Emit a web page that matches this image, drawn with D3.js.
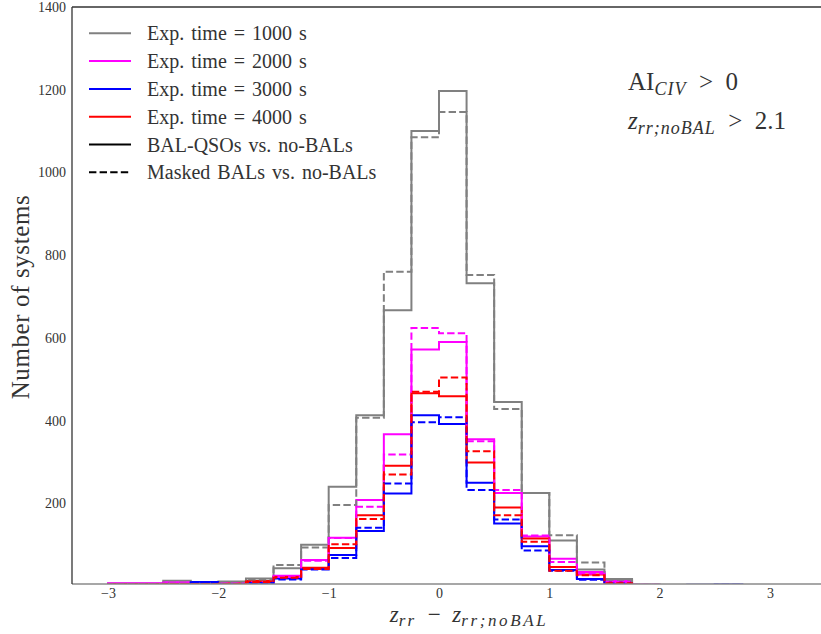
<!DOCTYPE html>
<html>
<head>
<meta charset="utf-8">
<script src="https://cdn.jsdelivr.net/npm/d3@7/dist/d3.min.js"></script>
<style>
  html, body { margin: 0; padding: 0; background: #fff; }
  svg { display: block; }
  text { font-family: "Liberation Serif", "DejaVu Serif", serif; fill: #333; }
</style>
</head>
<body>
<svg id="chart" width="821" height="634"></svg>
<script>
// ---------------- data ----------------
const binEdges = [-3, -2.75, -2.5, -2.25, -2, -1.75, -1.5, -1.25, -1, -0.75, -0.5, -0.25,
  0, 0.25, 0.5, 0.75, 1, 1.25, 1.5, 1.75, 2, 2.25, 2.5, 2.75, 3, 3.25];

const gray1000Solid  = [6, 6, 13, 8, 11, 18, 43, 100, 240, 413, 667, 1100, 1197, 732, 445, 225, 110, 40, 17, 3, 2, 2, 2, 2, 2];
const gray1000Dashed = [4, 4, 8, 6, 9, 16, 51, 93, 196, 407, 760, 1085, 1146, 752, 428, 225, 123, 57, 15, 3, 2, 2, 2, 2, 2];
const mag2000Solid   = [7, 7, 9, 5, 6, 10, 25, 63, 117, 208, 367, 572, 590, 355, 225, 120, 66, 34, 12, 3, 2, 2, 2, 2, 2];
const mag2000Dashed  = [5, 5, 7, 5, 6, 9, 22, 61, 116, 192, 318, 624, 611, 350, 232, 122, 58, 30, 10, 3, 2, 2, 2, 2, 2];
const blue3000Solid  = [4, 4, 5, 10, 5, 8, 18, 42, 75, 133, 224, 413, 392, 250, 151, 96, 39, 17, 8, 2, 2, 3, 4, 2, 2];
const blue3000Dashed = [3, 3, 4, 8, 4, 7, 16, 40, 68, 141, 248, 396, 408, 232, 161, 86, 37, 15, 6, 2, 2, 2, 3, 2, 2];
const red4000Solid   = [5, 5, 5, 5, 6, 12, 22, 44, 92, 171, 291, 466, 459, 299, 190, 115, 46, 28, 8, 2, 2, 2, 2, 2, 2];
const red4000Dashed  = [4, 4, 5, 5, 5, 10, 20, 41, 101, 162, 270, 470, 504, 326, 171, 107, 37, 26, 7, 2, 2, 2, 2, 2, 2];

const seriesColors = ["#808080", "#ff00ff", "#0000ff", "#ff0000"];
const legendLabels = ["Exp. time = 1000 s", "Exp. time = 2000 s", "Exp. time = 3000 s",
  "Exp. time = 4000 s", "BAL-QSOs vs. no-BALs", "Masked BALs vs. no-BALs"];
const xTicks = [-3, -2, -1, 0, 1, 2, 3];
const yTicks = [200, 400, 600, 800, 1000, 1200, 1400];

const solidSeries  = [gray1000Solid, mag2000Solid, blue3000Solid, red4000Solid];
const dashedSeries = [gray1000Dashed, mag2000Dashed, blue3000Dashed, red4000Dashed];

// ---------------- layout ----------------
const svg = d3.select("#chart");
const L = 72, T = 7, R = 821, B = 584;
const x = d3.scaleLinear().domain([-3.327, 3.463]).range([L, R]);
const y = d3.scaleLinear().domain([5, 1400]).range([B, T]);
const DASH = "7.4,3.2";

svg.append("defs").append("clipPath").attr("id", "plotclip")
  .append("rect").attr("x", L).attr("y", T).attr("width", R - L).attr("height", B - T);

function stepPoints(vals) {
  const pts = [[binEdges[0], 0]];
  vals.forEach((v, i) => { pts.push([binEdges[i], v]); pts.push([binEdges[i + 1], v]); });
  pts.push([binEdges[binEdges.length - 1], 0]);
  return pts;
}
const line = d3.line().x(d => x(d[0])).y(d => y(d[1]));

const g = svg.append("g").attr("clip-path", "url(#plotclip)");
solidSeries.forEach((s, i) => {
  g.append("path").attr("d", line(stepPoints(s))).attr("fill", "none")
    .attr("stroke", seriesColors[i]).attr("stroke-width", 2).attr("stroke-linejoin", "miter");
});
dashedSeries.forEach((s, i) => {
  g.append("path").attr("d", line(stepPoints(s))).attr("fill", "none")
    .attr("stroke", seriesColors[i]).attr("stroke-width", 2).attr("stroke-dasharray", DASH);
});

// spines
svg.append("line").attr("x1", L).attr("x2", R).attr("y1", B).attr("y2", B)
  .attr("stroke", "#8a8a8a").attr("stroke-width", 1.3);
svg.append("line").attr("x1", L).attr("x2", L).attr("y1", T).attr("y2", B)
  .attr("stroke", "#333").attr("stroke-width", 1.3);
svg.append("line").attr("x1", L).attr("x2", R).attr("y1", T).attr("y2", T)
  .attr("stroke", "#333").attr("stroke-width", 1.3);

// axes (labels only, no tick marks)
const xAxis = d3.axisBottom(x).tickValues(xTicks).tickSize(0).tickPadding(4)
  .tickFormat(d => d < 0 ? "\u2212" + Math.abs(d) : String(d));
const xa = svg.append("g").attr("transform", `translate(0,${B})`).call(xAxis);
xa.select(".domain").remove();
xa.selectAll("text").attr("font-size", 14).attr("font-family", "Liberation Serif").attr("fill", "#444");

const yAxis = d3.axisLeft(y).tickValues(yTicks).tickSize(0).tickPadding(6).tickFormat(d3.format("d"));
const ya = svg.append("g").attr("transform", `translate(${L},0)`).call(yAxis);
ya.select(".domain").remove();
ya.selectAll("text").attr("font-size", 14).attr("font-family", "Liberation Serif").attr("fill", "#444");

// axis titles
svg.append("text").attr("transform", "translate(29,297) rotate(-90)")
  .attr("text-anchor", "middle").attr("font-size", 25).attr("letter-spacing", 0.6).text("Number of systems");

const xl = svg.append("text").attr("x", 469).attr("y", 622).attr("text-anchor", "middle").attr("font-size", 23);
xl.append("tspan").attr("font-style", "italic").text("z");
xl.append("tspan").attr("font-style", "italic").attr("font-size", 17).attr("letter-spacing", 2.2).attr("dy", 4).text("rr");
xl.append("tspan").attr("dy", -4).text("\u2002\u2212\u2002");
xl.append("tspan").attr("font-style", "italic").text("z");
xl.append("tspan").attr("font-style", "italic").attr("font-size", 17).attr("letter-spacing", 2.6).attr("dy", 4).text("rr;noBAL");

// annotations
const a1 = svg.append("text").attr("x", 628).attr("y", 90).attr("font-size", 25);
a1.append("tspan").text("AI");
a1.append("tspan").attr("font-style", "italic").attr("font-size", 18).attr("letter-spacing", 1).attr("dy", 5).text("CIV");
a1.append("tspan").attr("dy", -5).text("\u2002>\u20020");

const a2 = svg.append("text").attr("x", 628).attr("y", 129).attr("font-size", 25);
a2.append("tspan").attr("font-style", "italic").text("z");
a2.append("tspan").attr("font-style", "italic").attr("font-size", 18).attr("letter-spacing", 1).attr("dy", 5).text("rr;noBAL");
a2.append("tspan").attr("dy", -5).text("\u2002>\u20022.1");

// legend
const legendColors = seriesColors.concat(["#000", "#000"]);
const legendDash = [null, null, null, null, null, DASH];
const lg = svg.append("g");
legendLabels.forEach((lab, i) => {
  const yy = 33.3 + i * 27.8;
  lg.append("line").attr("x1", 89).attr("x2", 131).attr("y1", yy).attr("y2", yy)
    .attr("stroke", legendColors[i]).attr("stroke-width", 2)
    .attr("stroke-dasharray", legendDash[i]);
  lg.append("text").attr("x", 147).attr("y", yy + 7).attr("font-size", 20)
    .attr("word-spacing", 2).attr("fill", "#3a3a3a").text(lab);
});
</script>
</body>
</html>
